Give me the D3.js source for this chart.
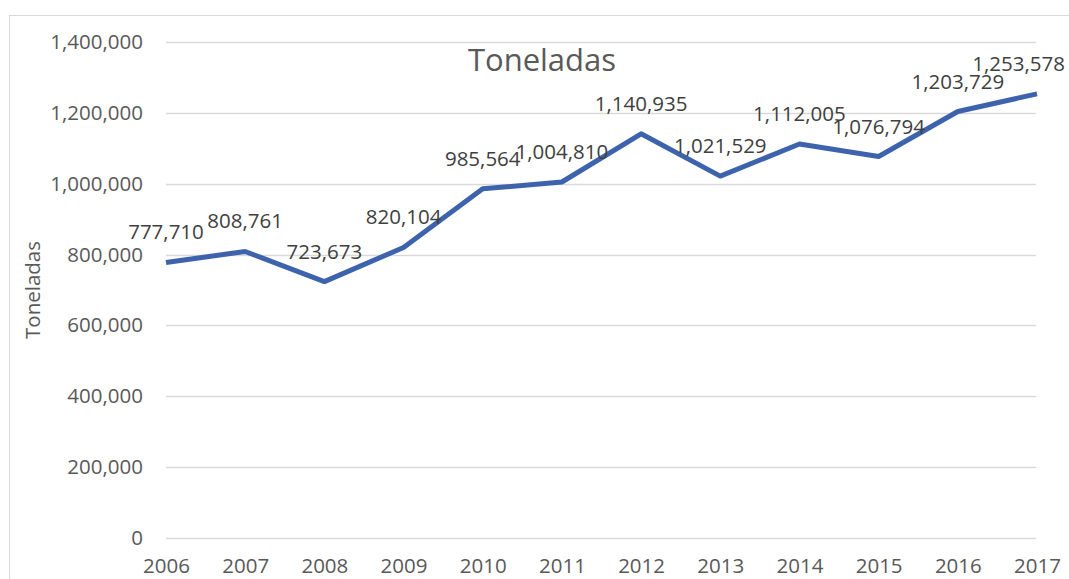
<!DOCTYPE html>
<html>
<head>
<meta charset="utf-8">
<script src="https://cdn.jsdelivr.net/npm/d3@7"></script>
<style>
  body { margin: 0; background: #fff; }
  text { font-family: "Open Sans", "Liberation Sans", sans-serif; }
</style>
</head>
<body>
<div id="chart-container"></div>
<script>
const years = [2006, 2007, 2008, 2009, 2010, 2011, 2012, 2013, 2014, 2015, 2016, 2017];
const toneladas = [777710, 808761, 723673, 820104, 985564, 1004810, 1140935, 1021529, 1112005, 1076794, 1203729, 1253578];
const yTicks = [0, 200000, 400000, 600000, 800000, 1000000, 1200000, 1400000];

const width = 1069;
const height = 579;
const labelSize = '20.5px';

const svg = d3.select('#chart-container')
    .append('svg')
    .attr('width', width)
    .attr('height', height);

// chart border
svg.append('rect')
    .attr('x', 9.5)
    .attr('y', 15.5)
    .attr('width', width + 20)
    .attr('height', height + 20)
    .attr('fill', 'none')
    .attr('stroke', '#d9d9d9')
    .attr('stroke-width', 1);

const xScale = d3.scalePoint(years, [166, 1037]);
const yScale = d3.scaleLinear([0, 1400000], [538, 42]);

const fmt = d3.format(',');

// gridlines
svg.append('g')
    .selectAll('line')
    .data(yTicks)
    .join('line')
    .attr('x1', 166)
    .attr('x2', 1036)
    .attr('y1', d => Math.round(yScale(d)) + 0.5)
    .attr('y2', d => Math.round(yScale(d)) + 0.5)
    .attr('stroke', '#d9d9d9')
    .attr('stroke-width', 1.5);

// y axis labels
const yAxis = svg.append('g')
    .attr('transform', 'translate(166, 0)')
    .call(d3.axisLeft(yScale).tickValues(yTicks).tickFormat(fmt).tickSize(0).tickPadding(23));
yAxis.select('.domain').remove();
yAxis.selectAll('text')
    .attr('fill', '#595959')
    .style('font-size', labelSize)
    .style('font-family', '"Open Sans", sans-serif');

// x axis labels
const xAxis = svg.append('g')
    .attr('transform', 'translate(0, 538)')
    .call(d3.axisBottom(xScale).tickSize(0).tickPadding(20));
xAxis.select('.domain').remove();
xAxis.selectAll('text')
    .attr('fill', '#595959')
    .style('font-size', labelSize)
    .style('font-family', '"Open Sans", sans-serif');

// title
svg.append('text')
    .text('Toneladas')
    .attr('x', 542)
    .attr('y', 71)
    .attr('text-anchor', 'middle')
    .attr('fill', '#595959')
    .style('font-size', '31px');

// axis title
svg.append('text')
    .text('Toneladas')
    .attr('transform', 'translate(40, 290) rotate(-90)')
    .attr('text-anchor', 'middle')
    .attr('fill', '#595959')
    .style('font-size', labelSize);

// line
const line = d3.line()
    .x((d, i) => xScale(years[i]))
    .y(d => yScale(d));

svg.append('path')
    .datum(toneladas)
    .attr('d', line)
    .attr('fill', 'none')
    .attr('stroke', '#3e63ad')
    .attr('stroke-width', 5)
    .attr('stroke-linejoin', 'round');

// data labels, kept inside the right edge
svg.append('g')
    .selectAll('text')
    .data(toneladas)
    .join('text')
    .text(d => fmt(d))
    .attr('x', (d, i) => xScale(years[i]))
    .attr('y', d => yScale(d) - 23)
    .attr('text-anchor', 'middle')
    .attr('fill', '#404040')
    .style('font-size', labelSize)
    .each(function () {
      const w = this.getComputedTextLength();
      const x = +d3.select(this).attr('x');
      if (x + w / 2 > width - 4) d3.select(this).attr('x', width - 4 - w / 2);
    });
</script>
</body>
</html>
